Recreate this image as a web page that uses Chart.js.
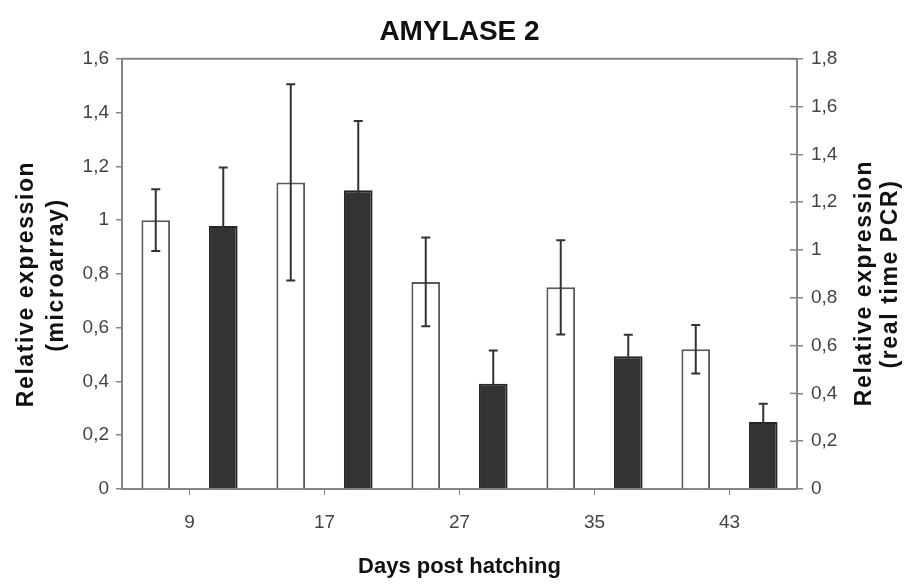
<!DOCTYPE html>
<html>
<head>
<meta charset="utf-8">
<script src="https://cdn.jsdelivr.net/npm/chart.js@4/dist/chart.umd.min.js"></script>
<style>
  body { margin: 0; background: #fff; }
  #wrap { width: 909px; height: 585px; }
</style>
</head>
<body>
<div id="wrap"><canvas id="amyChart"></canvas></div>
<script>
// values
const categories = ['9', '17', '27', '35', '43'];
const microarray = [1.0, 1.14, 0.77, 0.75, 0.52];
const microarrayErr = [0.115, 0.365, 0.165, 0.175, 0.09];
const pcr = [1.1, 1.25, 0.44, 0.555, 0.28];
const pcrErr = [0.245, 0.29, 0.14, 0.09, 0.077];
const leftTicks = ['0', '0,2', '0,4', '0,6', '0,8', '1', '1,2', '1,4', '1,6'];
const rightTicks = ['0', '0,2', '0,4', '0,6', '0,8', '1', '1,2', '1,4', '1,6', '1,8'];

const axisGrey = '#858585';
const labelFont = "'Liberation Sans', Arial, sans-serif";

// error bars, top frame line, inner ticks on the right axis, rotated axis titles
const extras = {
  id: 'extras',
  afterDatasetsDraw(chart) {
    const ctx = chart.ctx;
    const errs = [microarrayErr, pcrErr];
    ctx.save();
    ctx.strokeStyle = '#333';
    ctx.lineWidth = 2;
    chart.data.datasets.forEach((ds, i) => {
      const yScale = chart.scales[ds.yAxisID];
      chart.getDatasetMeta(i).data.forEach((bar, j) => {
        const v = ds.data[j], e = errs[i][j];
        const yt = yScale.getPixelForValue(v + e);
        const yb = yScale.getPixelForValue(v - e);
        ctx.beginPath();
        ctx.moveTo(bar.x, yt); ctx.lineTo(bar.x, yb);
        ctx.moveTo(bar.x - 4.5, yt); ctx.lineTo(bar.x + 4.5, yt);
        ctx.moveTo(bar.x - 4.5, yb); ctx.lineTo(bar.x + 4.5, yb);
        ctx.stroke();
      });
    });
    ctx.restore();
  },
  afterDraw(chart) {
    const ctx = chart.ctx;
    const area = chart.chartArea;
    ctx.save();
    ctx.strokeStyle = axisGrey;
    ctx.lineWidth = 2;
    ctx.beginPath();
    ctx.moveTo(area.left, area.top);
    ctx.lineTo(area.right, area.top);
    ctx.stroke();

    const y1 = chart.scales.y1;
    ctx.lineWidth = 1.5;
    y1.ticks.forEach((t, i) => {
      const py = y1.getPixelForTick(i);
      ctx.beginPath();
      ctx.moveTo(area.right - 7, py);
      ctx.lineTo(area.right, py);
      ctx.stroke();
    });

    ctx.fillStyle = '#111';
    ctx.font = 'bold 23px ' + labelFont;
    ctx.textAlign = 'center';
    ctx.textBaseline = 'alphabetic';
    ctx.letterSpacing = '1.6px';
    const titles = [
      [33, 284, 'Relative expression'],
      [63, 275, '(microarray)'],
      [871, 283, 'Relative expression'],
      [897, 274, '(real time PCR)']
    ];
    titles.forEach(([x, y, text]) => {
      ctx.save();
      ctx.translate(x, y);
      ctx.rotate(-Math.PI / 2);
      ctx.fillText(text, 0, 0);
      ctx.restore();
    });
    ctx.restore();
  }
};

new Chart(document.getElementById('amyChart'), {
  type: 'bar',
  data: {
    labels: categories,
    datasets: [
      {
        label: 'microarray',
        data: microarray,
        yAxisID: 'y',
        backgroundColor: '#ffffff',
        borderColor: '#5a5a5a',
        borderWidth: 2,
        borderSkipped: 'start',
        categoryPercentage: 1.0,
        barPercentage: 0.425
      },
      {
        label: 'real time PCR',
        data: pcr,
        yAxisID: 'y1',
        backgroundColor: '#333333',
        borderColor: '#262626',
        borderWidth: 2,
        borderSkipped: 'start',
        categoryPercentage: 1.0,
        barPercentage: 0.425
      }
    ]
  },
  options: {
    responsive: true,
    maintainAspectRatio: false,
    animation: false,
    layout: { padding: { left: 10, right: 0, top: 0, bottom: 0 } },
    plugins: {
      legend: { display: false },
      tooltip: { enabled: false },
      title: {
        display: true,
        text: 'AMYLASE 2',
        color: '#111',
        font: { family: labelFont, size: 28, weight: 'bold', lineHeight: 1.1 },
        padding: { top: 17, bottom: 11 }
      }
    },
    scales: {
      x: {
        grid: { display: true, drawOnChartArea: false, offset: false, tickLength: 6, color: axisGrey, lineWidth: 1 },
        border: { display: true, color: axisGrey, width: 2 },
        ticks: { color: '#444', padding: 16, font: { family: labelFont, size: 19 } },
        title: {
          display: true,
          text: 'Days post hatching',
          color: '#111',
          font: { family: labelFont, size: 22, weight: 'bold', lineHeight: 1.2 },
          padding: { top: 0, bottom: 5 }
        },
        afterFit(scale) { scale.height = 96; }
      },
      y: {
        position: 'left',
        min: 0,
        max: 1.6,
        grid: { display: true, drawOnChartArea: false, tickLength: 6, color: axisGrey, lineWidth: 1.5 },
        border: { display: true, color: axisGrey, width: 2 },
        ticks: {
          stepSize: 0.2,
          color: '#444',
          padding: 7,
          font: { family: labelFont, size: 19 },
          callback: (value, index) => leftTicks[index]
        },
        afterFit(scale) { scale.width = 112; }
      },
      y1: {
        position: 'right',
        min: 0,
        max: 1.8,
        grid: { display: true, drawOnChartArea: false, tickLength: 6, color: axisGrey, lineWidth: 1.5 },
        border: { display: true, color: axisGrey, width: 2 },
        ticks: {
          stepSize: 0.2,
          color: '#444',
          padding: 8,
          font: { family: labelFont, size: 19 },
          callback: (value, index) => rightTicks[index]
        },
        afterFit(scale) { scale.width = 112; }
      }
    }
  },
  plugins: [extras]
});
</script>
</body>
</html>
